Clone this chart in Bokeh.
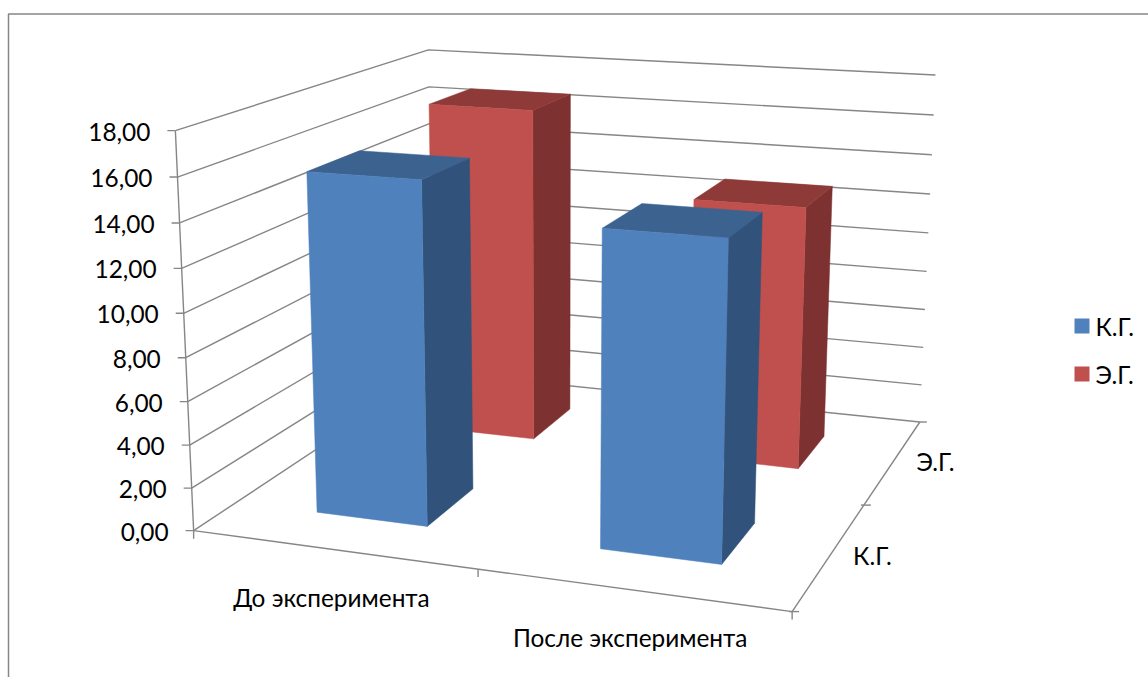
import numpy as np
from bokeh.core.properties import value
from bokeh.embed import file_html
from bokeh.models import ColumnDataSource
from bokeh.plotting import figure
from bokeh.resources import INLINE

categories = ["До эксперимента", "После эксперимента"]
series = ["К.Г.", "Э.Г."]
kg_values = [15.77, 14.26]
eg_values = [16.70, 12.87]
axis_levels = [0, 2, 4, 6, 8, 10, 12, 14, 16, 18]
axis_labels = ["0,00", "2,00", "4,00", "6,00", "8,00", "10,00", "12,00", "14,00", "16,00", "18,00"]

AXIS_MAX = 18.0
GRID = "#868686"
FONT = value("Lato")
FONT_SIZE = "24.4px"
FACE_COLORS = {
    "К.Г.": ("#4F81BD", "#31527A", "#3C6390"),
    "Э.Г.": ("#C0504D", "#7D3130", "#8E3A38"),
}

# Perspective camera for the unit box: x along categories, y up the value
# axis, z from the front of the floor to the back wall.
CAMERA = np.array([
    [5.23919257e+02, -2.66255703e+01, 3.49931309e+02, 1.93135037e+02],
    [2.33646914e+01, -4.06221934e+02, -6.43304408e+01, 5.30143018e+02],
    [-9.42170933e-02, -4.78285182e-02, 2.54796064e-01, 1.0],
])


def project(x, v, z):
    """Screen position of a point at category fraction x, value v, depth z."""
    h = CAMERA @ np.array([x, v / AXIS_MAX, z, 1.0])
    return float(h[0] / h[2]), float(h[1] / h[2])


p = figure(
    width=1148, height=677, x_range=(0, 1148), y_range=(677, 0),
    output_backend="svg", toolbar_location=None, min_border=0,
    background_fill_color="white", border_fill_color="white", outline_line_color=None,
)
p.axis.visible = False
p.grid.visible = False


def segment(a, b, width=1.4):
    p.line([a[0], b[0]], [a[1], b[1]], line_color=GRID, line_width=width)


# Chart frame; its right and bottom sides run past the page edge.
p.line([1200, 8, 8], [13.5, 13.5, 720], line_color=GRID, line_width=1.5)

# Wall gridlines: left wall from the value axis back, then along the back wall.
for level in axis_levels:
    left = project(0, level, 0)
    corner = project(0, level, 1)
    right = project(1, level, 1)
    p.line([left[0], corner[0], right[0]], [left[1], corner[1], right[1]],
           line_color=GRID, line_width=1.4)
    segment((left[0] - 8, left[1]), left)

# Axis lines and their tick marks.
segment(project(0, 0, 0), project(0, AXIS_MAX, 0))
segment(project(0, 0, 0), project(1, 0, 0))
segment(project(1, 0, 0), project(1, 0, 1))
for i in range(len(categories) + 1):
    tick = project(i / len(categories), 0, 0)
    segment(tick, (tick[0], tick[1] + 8))
for i in range(len(series) + 1):
    tick = project(1, 0, i / len(series))
    segment((tick[0] - (3 if i < 2 else 0), tick[1]), (tick[0] + 7, tick[1]))

# Bars, back row first so the nearer ones cover them.
BAR_START, BAR_END = 0.3, 0.7
cell_x = 1 / len(categories)
cell_z = 1 / len(series)
for s_idx in reversed(range(len(series))):
    values = [kg_values, eg_values][s_idx]
    front, side, top = FACE_COLORS[series[s_idx]]
    z0 = (s_idx + BAR_START) * cell_z
    z1 = (s_idx + BAR_END) * cell_z
    for c_idx, val in enumerate(values):
        x0 = (c_idx + BAR_START) * cell_x
        x1 = (c_idx + BAR_END) * cell_x
        faces = [
            ([(x1, 0, z0), (x1, 0, z1), (x1, val, z1), (x1, val, z0)], side),
            ([(x0, val, z0), (x1, val, z0), (x1, val, z1), (x0, val, z1)], top),
            ([(x0, 0, z0), (x1, 0, z0), (x1, val, z0), (x0, val, z0)], front),
        ]
        for corners, color in faces:
            xy = [project(*c) for c in corners]
            p.patch([q[0] for q in xy], [q[1] for q in xy],
                    fill_color=color, line_color=color, line_width=0.5)


def label(x, y, text, align="center"):
    p.text(x=[x], y=[y], text=[text], text_font=FONT, text_font_size=FONT_SIZE,
           text_color="#000000", text_align=align, text_baseline="middle")


# Value axis labels.
for level, text in zip(axis_levels, axis_labels):
    ax, ay = project(0, level, 0)
    label(ax - 25, ay + 1, text, "right")

# Category labels below the front edge of the floor.
for i, name in enumerate(categories):
    cx, cy = project((i + 0.5) * cell_x, 0, 0)
    label(cx - 1, cy + 48, name)

# Series labels beside the right edge of the floor.
for i, name in enumerate(series):
    cx, cy = project(1, 0, (i + 0.5) * cell_z)
    label(cx + 42, cy + 0.5, name)

# Legend.
swatches = ColumnDataSource(dict(
    x=[1081.5] * len(series),
    y=[325.5 + 48 * i for i in range(len(series))],
    color=[FACE_COLORS[s][0] for s in series],
    name=series,
))
p.rect(x="x", y="y", width=15, height=15, fill_color="color", line_color=None, source=swatches)
p.text(x=1095, y="y", text="name", source=swatches, text_font=FONT, text_font_size=FONT_SIZE,
       text_color="#000000", text_align="left", text_baseline="middle")

open("out.html", "w").write(file_html(p, INLINE))
